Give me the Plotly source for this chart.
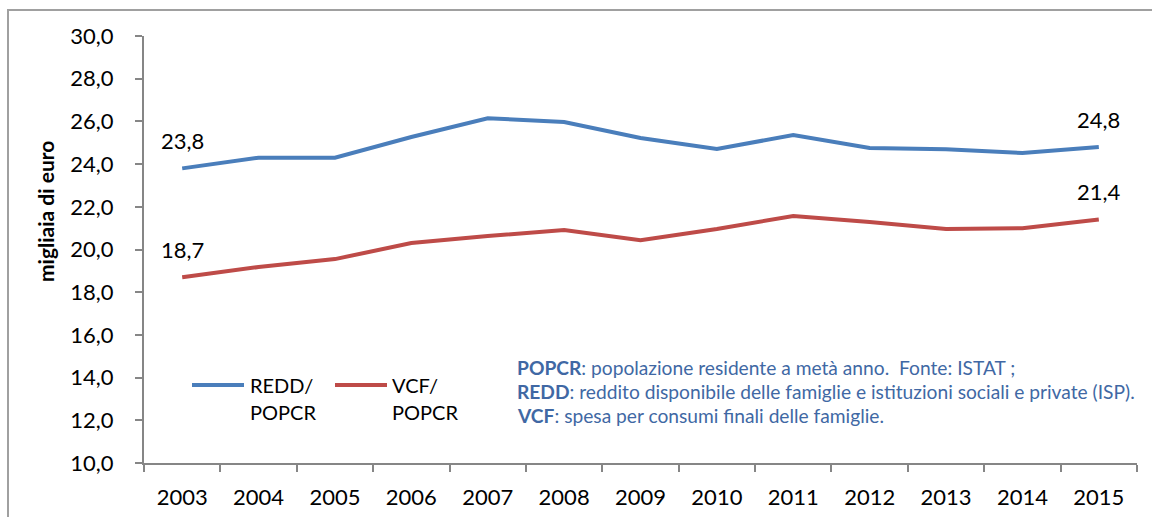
import plotly.graph_objects as go

# Reddito disponibile e spesa per consumi pro capite (migliaia di euro)
anni = ["2003", "2004", "2005", "2006", "2007", "2008", "2009",
        "2010", "2011", "2012", "2013", "2014", "2015"]
redd_popcr = [23.8, 24.3, 24.3, 25.27, 26.15, 25.97, 25.22,
              24.71, 25.36, 24.75, 24.7, 24.52, 24.8]
vcf_popcr = [18.7, 19.18, 19.55, 20.3, 20.63, 20.91, 20.44,
             20.96, 21.57, 21.29, 20.96, 21.0, 21.4]

BLUE = "#4A7EBB"
RED = "#BE4B48"
AXIS_GRAY = "#868686"
NOTE_BLUE = "#4068A4"
FONT = "Lato, 'Open Sans', sans-serif"

W, H = 1152, 517
L, R, T, B = 144, 15, 36, 54
PW, PH = W - L - R, H - T - B


def px_x(px):
    return (px - L) / PW


def px_y(py):
    return (H - B - py) / PH


fig = go.Figure()
fig.add_trace(go.Scatter(x=anni, y=redd_popcr, mode="lines", name="REDD/<br>POPCR",
                         line=dict(color=BLUE, width=4), showlegend=False))
fig.add_trace(go.Scatter(x=anni, y=vcf_popcr, mode="lines", name="VCF/<br>POPCR",
                         line=dict(color=RED, width=4), showlegend=False))


def fmt(v):
    return f"{v:.1f}".replace(".", ",")


annotations = []
# value labels on first and last points (x given as category index)
for serie in (redd_popcr, vcf_popcr):
    for i in (0, len(anni) - 1):
        annotations.append(dict(x=i, y=serie[i], xref="x", yref="y",
                                text=fmt(serie[i]), showarrow=False,
                                yshift=28, font=dict(family=FONT, size=22, color="#000")))

# legend drawn as short line + two-line label
shapes = []
legend_items = [(192, 244, 250, "REDD/", BLUE), (335, 387, 392, "VCF/", RED)]
for x0, x1, xt, txt, col in legend_items:
    shapes.append(dict(type="line", xref="paper", yref="paper",
                       x0=px_x(x0), x1=px_x(x1), y0=px_y(385), y1=px_y(385),
                       line=dict(color=col, width=4)))
    annotations.append(dict(x=px_x(xt - 2), y=px_y(385), xref="paper", yref="paper",
                            xanchor="left", yanchor="middle", showarrow=False,
                            text=txt, font=dict(family=FONT, size=20, color="#000")))
    annotations.append(dict(x=px_x(xt - 2), y=px_y(412), xref="paper", yref="paper",
                            xanchor="left", yanchor="middle", showarrow=False,
                            text="POPCR", font=dict(family=FONT, size=20, color="#000")))

# notes on definitions and source
note_lines = [
    "<b>POPCR</b>: popolazione residente a metà anno.  Fonte: ISTAT ;",
    "<b>REDD</b>: reddito disponibile delle famiglie e istituzioni sociali e private (ISP).",
    "<b>VCF</b>: spesa per consumi finali delle famiglie.",
]
for k, line in enumerate(note_lines):
    annotations.append(dict(x=px_x(515), y=px_y(367 + 24 * k), xref="paper", yref="paper",
                            xanchor="left", yanchor="middle", showarrow=False,
                            text=line, font=dict(family=FONT, size=19.2, color=NOTE_BLUE)))

# vertical axis title
annotations.append(dict(x=px_x(45), y=px_y(212), xref="paper", yref="paper",
                        xanchor="center", yanchor="middle", showarrow=False, textangle=-90,
                        text="<b>migliaia di euro</b>",
                        font=dict(family=FONT, size=21, color="#000")))

# outer chart frame (top and left edges)
shapes.append(dict(type="path", xref="paper", yref="paper",
                   path=f"M {px_x(8)},{px_y(530)} L {px_x(8)},{px_y(10)} L {px_x(1160)},{px_y(10)}",
                   line=dict(color="#A0A0A0", width=2)))

fig.update_layout(
    width=W, height=H,
    margin=dict(l=L, r=R, t=T, b=B, autoexpand=False),
    paper_bgcolor="white", plot_bgcolor="white",
    separators=",.",
    font=dict(family=FONT, color="#000"),
    shapes=shapes,
    annotations=annotations,
    showlegend=False,
)
fig.update_xaxes(type="category", range=[-0.5, len(anni) - 0.5], autorange=False,
                 tickson="boundaries", ticks="outside", ticklen=7, automargin=False,
                 tickcolor=AXIS_GRAY, tickwidth=2, showline=True, linecolor=AXIS_GRAY,
                 linewidth=2, showgrid=False, zeroline=False, tickangle=0,
                 ticklabelstandoff=14,
                 tickfont=dict(family=FONT, size=22, color="#000"))
fig.update_yaxes(range=[10, 30], autorange=False, dtick=2, tick0=10, tickformat=".1f",
                 ticks="outside", ticklen=7, tickcolor=AXIS_GRAY, tickwidth=2, showline=True,
                 linecolor=AXIS_GRAY, linewidth=2, showgrid=False, zeroline=False,
                 ticklabelstandoff=17, automargin=False,
                 tickfont=dict(family=FONT, size=22, color="#000"))

fig.write_html("out.html")
